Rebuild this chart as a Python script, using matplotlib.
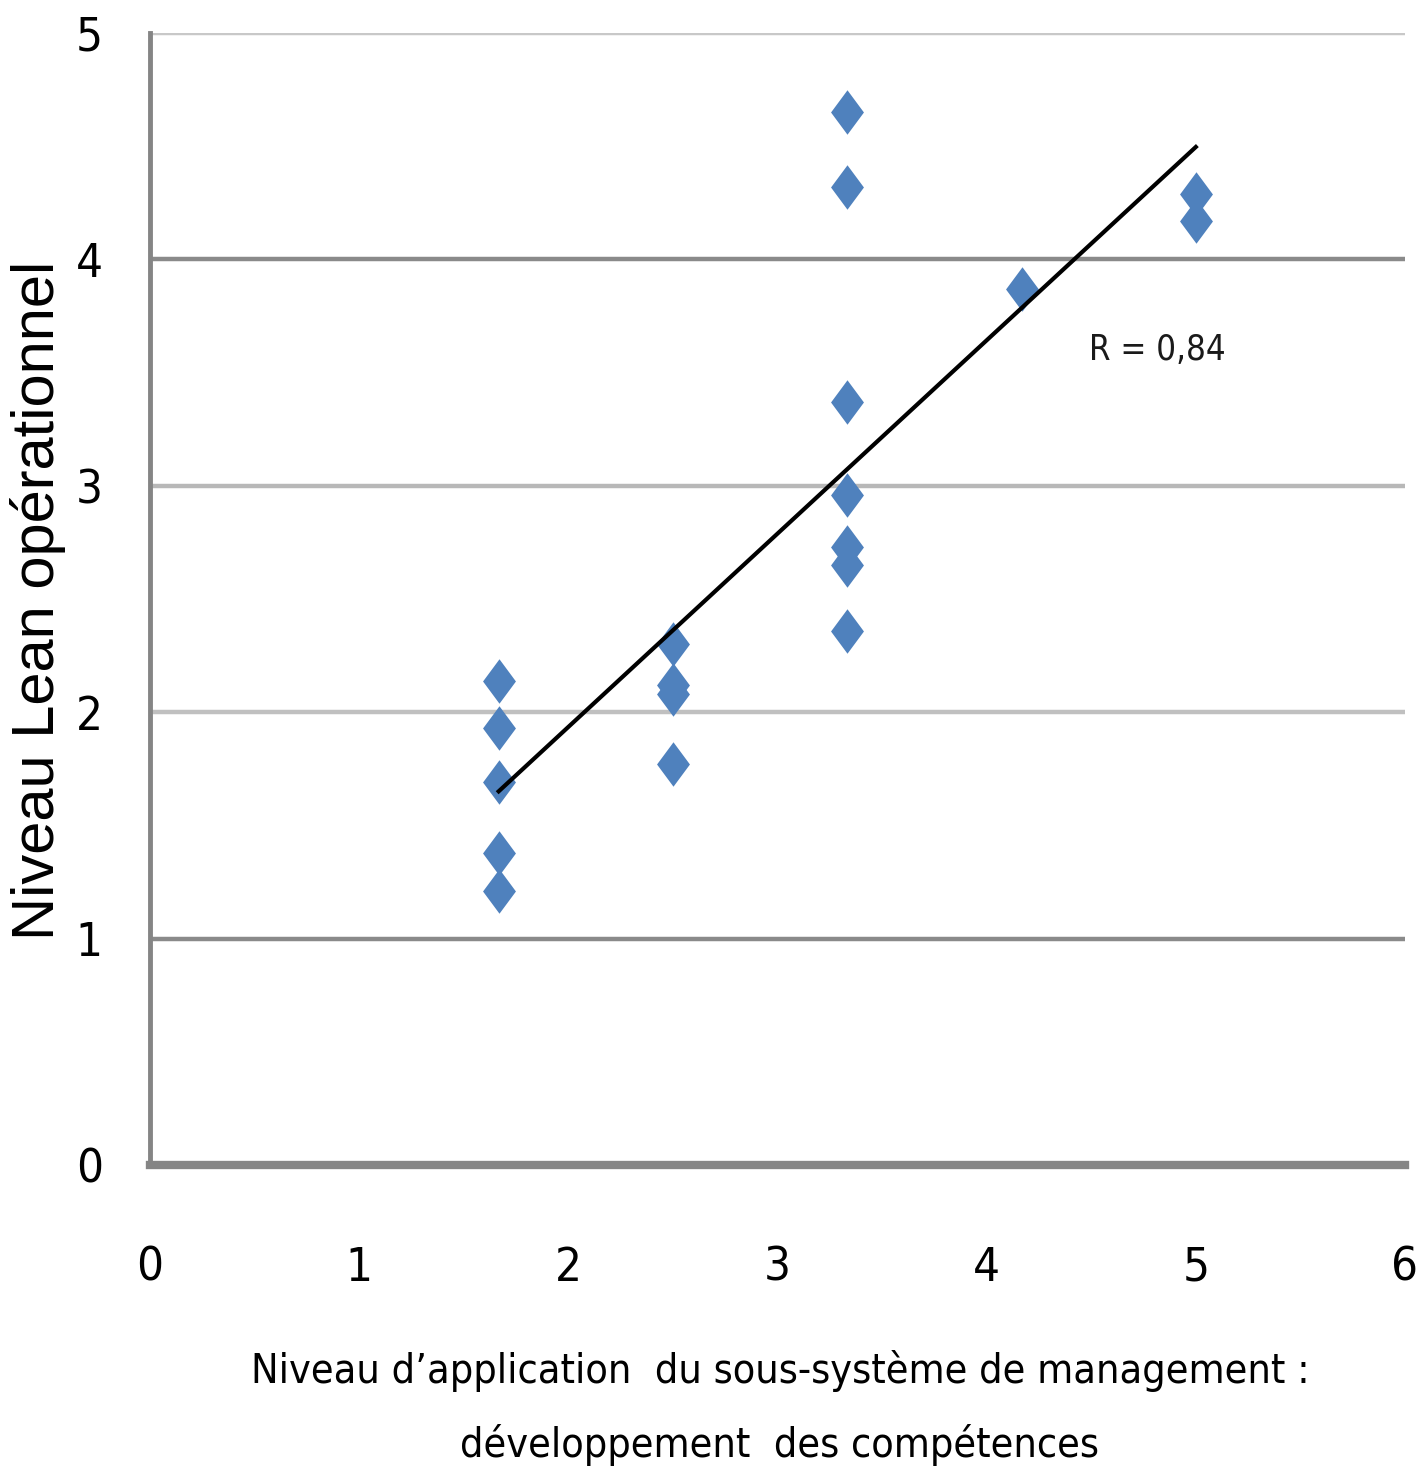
import numpy as np
import matplotlib
matplotlib.use("Agg")
import matplotlib.pyplot as plt

# Data
x_vals = [1.667, 1.667, 1.667, 1.667, 1.667,
          2.5, 2.5, 2.5, 2.5,
          3.333, 3.333, 3.333, 3.333, 3.333, 3.333, 3.333,
          4.167,
          5.0, 5.0]
y_vals = [2.14, 1.93, 1.69, 1.38, 1.21,
          2.30, 2.12, 2.08, 1.77,
          4.65, 4.32, 3.37, 2.96, 2.73, 2.65, 2.36,
          3.87,
          4.29, 4.17]
x_ticks = [0, 1, 2, 3, 4, 5, 6]
y_ticks = [0, 1, 2, 3, 4, 5]
r_label = "R = 0,84"
x_label = "Niveau d\u2019application  du sous-système de management :\ndéveloppement  des compétences"
y_label = "Niveau Lean opérationnel"

W, H = 1421, 1479
fig = plt.figure(figsize=(W / 100, H / 100), dpi=100)
ax = fig.add_axes([150 / W, 1 - 1165 / H, (1405 - 150) / W, (1165 - 33) / H])
ax.set_xlim(0, 6)
ax.set_ylim(0, 5)

grid_colors = {1: '#8a8a8a', 2: '#c0c0c0', 3: '#b8b8b8', 4: '#8a8a8a', 5: '#c8c8c8'}
for yv in y_ticks[1:]:
    ax.axhline(yv, color=grid_colors[yv], lw=3.2, zorder=1)

diamond = [(0, 1), (0.74, 0), (0, -1), (-0.74, 0), (0, 1)]
ax.scatter(x_vals, y_vals, marker=diamond, s=32**2, color='#4f81bd', zorder=3, linewidths=0)

coef = np.polyfit(x_vals, y_vals, 1)
xs = np.array([min(x_vals), max(x_vals)])
ax.plot(xs, np.polyval(coef, xs), color='black', lw=3, zorder=4)

cond = dict(family='DejaVu Sans', stretch='condensed')

r_txt = ax.text(4.49, 3.6, r_label, fontsize=28, va='center', ha='left', color='#1a1a1a', **cond)

for s in ['top', 'right']:
    ax.spines[s].set_visible(False)
ax.spines['left'].set_color('#858585')
ax.spines['left'].set_linewidth(3.5)
ax.spines['bottom'].set_color('#858585')
ax.spines['bottom'].set_linewidth(6)

ax.set_xticks(x_ticks)
ax.set_yticks(y_ticks)
ax.set_xticklabels([str(t) for t in x_ticks], fontsize=34, **cond)
ax.set_yticklabels([str(t) for t in y_ticks], fontsize=34, **cond)
ax.tick_params(axis='x', length=0, pad=58)
ax.tick_params(axis='y', length=0, pad=34)

yl = fig.text(38 / W, 1 - 600 / H, y_label, rotation=90, fontsize=32, ha='center', va='center',
              family=['Liberation Sans', 'DejaVu Sans'])
xl = fig.text(780 / W, 1 - 1408 / H, x_label, fontsize=32, ha='center', va='center',
              linespacing=1.95, **cond)

# fit text widths to reference extents (pixels)
fig.canvas.draw()
r = fig.canvas.get_renderer()
def fit(t, target, vertical=False):
    bb = t.get_window_extent(r)
    cur = bb.height if vertical else bb.width
    t.set_fontsize(t.get_fontsize() * target / cur)
fit(xl, 1060)
fit(yl, 680, vertical=True)
fit(r_txt, 137)

fig.savefig('out.png', dpi=100, facecolor='white')
